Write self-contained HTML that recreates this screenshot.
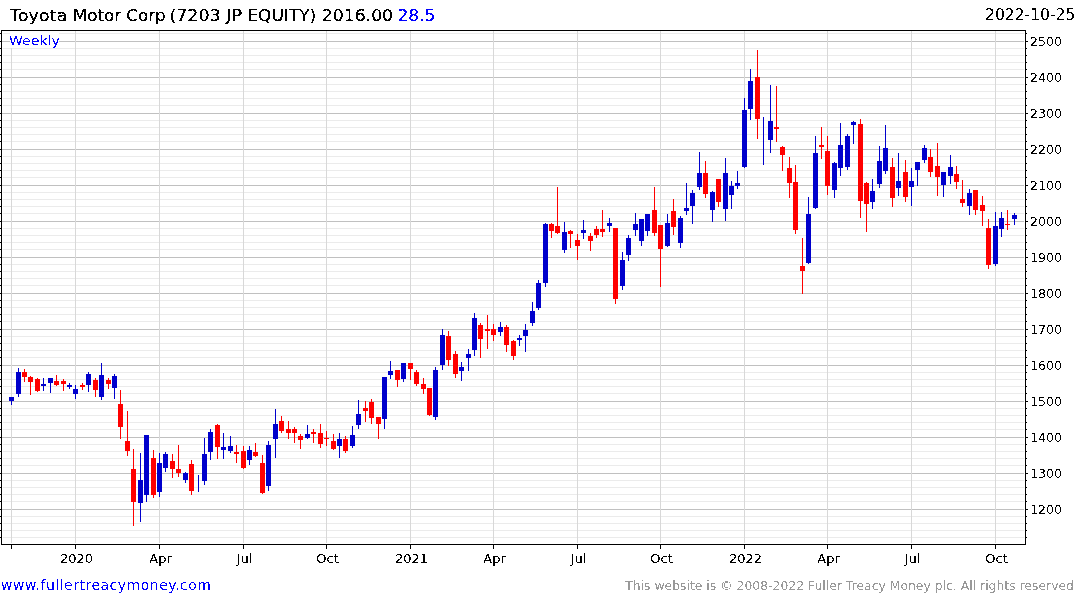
<!DOCTYPE html>
<html><head><meta charset="utf-8"><title>Toyota Motor Corp weekly chart</title>
<style>
html,body{margin:0;padding:0;background:#fff;}
body{width:1075px;height:600px;overflow:hidden;}
svg{display:block;}
svg text{font-family:'DejaVu Sans', 'Liberation Sans', sans-serif;}
</style></head><body>
<svg width="1075" height="600" viewBox="0 0 1075 600">
<rect width="1075" height="600" fill="#fff"/>
<g shape-rendering="crispEdges">
<rect x="3" y="33" width="1021" height="1" fill="#ebebeb"/>
<rect x="0" y="33" width="1" height="1" fill="#000"/>
<rect x="1026" y="33" width="1" height="1" fill="#000"/>
<rect x="2" y="41" width="1022" height="1" fill="#c0c0c0"/>
<rect x="0" y="41" width="1" height="1" fill="#000"/>
<rect x="1026" y="41" width="2" height="1" fill="#000"/>
<rect x="3" y="48" width="1021" height="1" fill="#ebebeb"/>
<rect x="0" y="48" width="1" height="1" fill="#000"/>
<rect x="1026" y="48" width="1" height="1" fill="#000"/>
<rect x="3" y="55" width="1021" height="1" fill="#ebebeb"/>
<rect x="0" y="55" width="1" height="1" fill="#000"/>
<rect x="1026" y="55" width="1" height="1" fill="#000"/>
<rect x="3" y="62" width="1021" height="1" fill="#ebebeb"/>
<rect x="0" y="62" width="1" height="1" fill="#000"/>
<rect x="1026" y="62" width="1" height="1" fill="#000"/>
<rect x="3" y="69" width="1021" height="1" fill="#ebebeb"/>
<rect x="0" y="69" width="1" height="1" fill="#000"/>
<rect x="1026" y="69" width="1" height="1" fill="#000"/>
<rect x="2" y="77" width="1022" height="1" fill="#c0c0c0"/>
<rect x="0" y="77" width="1" height="1" fill="#000"/>
<rect x="1026" y="77" width="2" height="1" fill="#000"/>
<rect x="3" y="84" width="1021" height="1" fill="#ebebeb"/>
<rect x="0" y="84" width="1" height="1" fill="#000"/>
<rect x="1026" y="84" width="1" height="1" fill="#000"/>
<rect x="3" y="91" width="1021" height="1" fill="#ebebeb"/>
<rect x="0" y="91" width="1" height="1" fill="#000"/>
<rect x="1026" y="91" width="1" height="1" fill="#000"/>
<rect x="3" y="98" width="1021" height="1" fill="#ebebeb"/>
<rect x="0" y="98" width="1" height="1" fill="#000"/>
<rect x="1026" y="98" width="1" height="1" fill="#000"/>
<rect x="3" y="105" width="1021" height="1" fill="#ebebeb"/>
<rect x="0" y="105" width="1" height="1" fill="#000"/>
<rect x="1026" y="105" width="1" height="1" fill="#000"/>
<rect x="2" y="113" width="1022" height="1" fill="#c0c0c0"/>
<rect x="0" y="113" width="1" height="1" fill="#000"/>
<rect x="1026" y="113" width="2" height="1" fill="#000"/>
<rect x="3" y="120" width="1021" height="1" fill="#ebebeb"/>
<rect x="0" y="120" width="1" height="1" fill="#000"/>
<rect x="1026" y="120" width="1" height="1" fill="#000"/>
<rect x="3" y="127" width="1021" height="1" fill="#ebebeb"/>
<rect x="0" y="127" width="1" height="1" fill="#000"/>
<rect x="1026" y="127" width="1" height="1" fill="#000"/>
<rect x="3" y="134" width="1021" height="1" fill="#ebebeb"/>
<rect x="0" y="134" width="1" height="1" fill="#000"/>
<rect x="1026" y="134" width="1" height="1" fill="#000"/>
<rect x="3" y="141" width="1021" height="1" fill="#ebebeb"/>
<rect x="0" y="141" width="1" height="1" fill="#000"/>
<rect x="1026" y="141" width="1" height="1" fill="#000"/>
<rect x="2" y="149" width="1022" height="1" fill="#c0c0c0"/>
<rect x="0" y="149" width="1" height="1" fill="#000"/>
<rect x="1026" y="149" width="2" height="1" fill="#000"/>
<rect x="3" y="156" width="1021" height="1" fill="#ebebeb"/>
<rect x="0" y="156" width="1" height="1" fill="#000"/>
<rect x="1026" y="156" width="1" height="1" fill="#000"/>
<rect x="3" y="163" width="1021" height="1" fill="#ebebeb"/>
<rect x="0" y="163" width="1" height="1" fill="#000"/>
<rect x="1026" y="163" width="1" height="1" fill="#000"/>
<rect x="3" y="170" width="1021" height="1" fill="#ebebeb"/>
<rect x="0" y="170" width="1" height="1" fill="#000"/>
<rect x="1026" y="170" width="1" height="1" fill="#000"/>
<rect x="3" y="177" width="1021" height="1" fill="#ebebeb"/>
<rect x="0" y="177" width="1" height="1" fill="#000"/>
<rect x="1026" y="177" width="1" height="1" fill="#000"/>
<rect x="2" y="185" width="1022" height="1" fill="#c0c0c0"/>
<rect x="0" y="185" width="1" height="1" fill="#000"/>
<rect x="1026" y="185" width="2" height="1" fill="#000"/>
<rect x="3" y="192" width="1021" height="1" fill="#ebebeb"/>
<rect x="0" y="192" width="1" height="1" fill="#000"/>
<rect x="1026" y="192" width="1" height="1" fill="#000"/>
<rect x="3" y="199" width="1021" height="1" fill="#ebebeb"/>
<rect x="0" y="199" width="1" height="1" fill="#000"/>
<rect x="1026" y="199" width="1" height="1" fill="#000"/>
<rect x="3" y="206" width="1021" height="1" fill="#ebebeb"/>
<rect x="0" y="206" width="1" height="1" fill="#000"/>
<rect x="1026" y="206" width="1" height="1" fill="#000"/>
<rect x="3" y="213" width="1021" height="1" fill="#ebebeb"/>
<rect x="0" y="213" width="1" height="1" fill="#000"/>
<rect x="1026" y="213" width="1" height="1" fill="#000"/>
<rect x="2" y="221" width="1022" height="1" fill="#c0c0c0"/>
<rect x="0" y="221" width="1" height="1" fill="#000"/>
<rect x="1026" y="221" width="2" height="1" fill="#000"/>
<rect x="3" y="228" width="1021" height="1" fill="#ebebeb"/>
<rect x="0" y="228" width="1" height="1" fill="#000"/>
<rect x="1026" y="228" width="1" height="1" fill="#000"/>
<rect x="3" y="235" width="1021" height="1" fill="#ebebeb"/>
<rect x="0" y="235" width="1" height="1" fill="#000"/>
<rect x="1026" y="235" width="1" height="1" fill="#000"/>
<rect x="3" y="242" width="1021" height="1" fill="#ebebeb"/>
<rect x="0" y="242" width="1" height="1" fill="#000"/>
<rect x="1026" y="242" width="1" height="1" fill="#000"/>
<rect x="3" y="249" width="1021" height="1" fill="#ebebeb"/>
<rect x="0" y="249" width="1" height="1" fill="#000"/>
<rect x="1026" y="249" width="1" height="1" fill="#000"/>
<rect x="2" y="257" width="1022" height="1" fill="#c0c0c0"/>
<rect x="0" y="257" width="1" height="1" fill="#000"/>
<rect x="1026" y="257" width="2" height="1" fill="#000"/>
<rect x="3" y="264" width="1021" height="1" fill="#ebebeb"/>
<rect x="0" y="264" width="1" height="1" fill="#000"/>
<rect x="1026" y="264" width="1" height="1" fill="#000"/>
<rect x="3" y="271" width="1021" height="1" fill="#ebebeb"/>
<rect x="0" y="271" width="1" height="1" fill="#000"/>
<rect x="1026" y="271" width="1" height="1" fill="#000"/>
<rect x="3" y="278" width="1021" height="1" fill="#ebebeb"/>
<rect x="0" y="278" width="1" height="1" fill="#000"/>
<rect x="1026" y="278" width="1" height="1" fill="#000"/>
<rect x="3" y="285" width="1021" height="1" fill="#ebebeb"/>
<rect x="0" y="285" width="1" height="1" fill="#000"/>
<rect x="1026" y="285" width="1" height="1" fill="#000"/>
<rect x="2" y="293" width="1022" height="1" fill="#c0c0c0"/>
<rect x="0" y="293" width="1" height="1" fill="#000"/>
<rect x="1026" y="293" width="2" height="1" fill="#000"/>
<rect x="3" y="300" width="1021" height="1" fill="#ebebeb"/>
<rect x="0" y="300" width="1" height="1" fill="#000"/>
<rect x="1026" y="300" width="1" height="1" fill="#000"/>
<rect x="3" y="307" width="1021" height="1" fill="#ebebeb"/>
<rect x="0" y="307" width="1" height="1" fill="#000"/>
<rect x="1026" y="307" width="1" height="1" fill="#000"/>
<rect x="3" y="314" width="1021" height="1" fill="#ebebeb"/>
<rect x="0" y="314" width="1" height="1" fill="#000"/>
<rect x="1026" y="314" width="1" height="1" fill="#000"/>
<rect x="3" y="321" width="1021" height="1" fill="#ebebeb"/>
<rect x="0" y="321" width="1" height="1" fill="#000"/>
<rect x="1026" y="321" width="1" height="1" fill="#000"/>
<rect x="2" y="329" width="1022" height="1" fill="#c0c0c0"/>
<rect x="0" y="329" width="1" height="1" fill="#000"/>
<rect x="1026" y="329" width="2" height="1" fill="#000"/>
<rect x="3" y="336" width="1021" height="1" fill="#ebebeb"/>
<rect x="0" y="336" width="1" height="1" fill="#000"/>
<rect x="1026" y="336" width="1" height="1" fill="#000"/>
<rect x="3" y="343" width="1021" height="1" fill="#ebebeb"/>
<rect x="0" y="343" width="1" height="1" fill="#000"/>
<rect x="1026" y="343" width="1" height="1" fill="#000"/>
<rect x="3" y="350" width="1021" height="1" fill="#ebebeb"/>
<rect x="0" y="350" width="1" height="1" fill="#000"/>
<rect x="1026" y="350" width="1" height="1" fill="#000"/>
<rect x="3" y="357" width="1021" height="1" fill="#ebebeb"/>
<rect x="0" y="357" width="1" height="1" fill="#000"/>
<rect x="1026" y="357" width="1" height="1" fill="#000"/>
<rect x="2" y="365" width="1022" height="1" fill="#c0c0c0"/>
<rect x="0" y="365" width="1" height="1" fill="#000"/>
<rect x="1026" y="365" width="2" height="1" fill="#000"/>
<rect x="3" y="372" width="1021" height="1" fill="#ebebeb"/>
<rect x="0" y="372" width="1" height="1" fill="#000"/>
<rect x="1026" y="372" width="1" height="1" fill="#000"/>
<rect x="3" y="379" width="1021" height="1" fill="#ebebeb"/>
<rect x="0" y="379" width="1" height="1" fill="#000"/>
<rect x="1026" y="379" width="1" height="1" fill="#000"/>
<rect x="3" y="386" width="1021" height="1" fill="#ebebeb"/>
<rect x="0" y="386" width="1" height="1" fill="#000"/>
<rect x="1026" y="386" width="1" height="1" fill="#000"/>
<rect x="3" y="393" width="1021" height="1" fill="#ebebeb"/>
<rect x="0" y="393" width="1" height="1" fill="#000"/>
<rect x="1026" y="393" width="1" height="1" fill="#000"/>
<rect x="2" y="401" width="1022" height="1" fill="#c0c0c0"/>
<rect x="0" y="401" width="1" height="1" fill="#000"/>
<rect x="1026" y="401" width="2" height="1" fill="#000"/>
<rect x="3" y="408" width="1021" height="1" fill="#ebebeb"/>
<rect x="0" y="408" width="1" height="1" fill="#000"/>
<rect x="1026" y="408" width="1" height="1" fill="#000"/>
<rect x="3" y="415" width="1021" height="1" fill="#ebebeb"/>
<rect x="0" y="415" width="1" height="1" fill="#000"/>
<rect x="1026" y="415" width="1" height="1" fill="#000"/>
<rect x="3" y="422" width="1021" height="1" fill="#ebebeb"/>
<rect x="0" y="422" width="1" height="1" fill="#000"/>
<rect x="1026" y="422" width="1" height="1" fill="#000"/>
<rect x="3" y="429" width="1021" height="1" fill="#ebebeb"/>
<rect x="0" y="429" width="1" height="1" fill="#000"/>
<rect x="1026" y="429" width="1" height="1" fill="#000"/>
<rect x="2" y="437" width="1022" height="1" fill="#c0c0c0"/>
<rect x="0" y="437" width="1" height="1" fill="#000"/>
<rect x="1026" y="437" width="2" height="1" fill="#000"/>
<rect x="3" y="444" width="1021" height="1" fill="#ebebeb"/>
<rect x="0" y="444" width="1" height="1" fill="#000"/>
<rect x="1026" y="444" width="1" height="1" fill="#000"/>
<rect x="3" y="451" width="1021" height="1" fill="#ebebeb"/>
<rect x="0" y="451" width="1" height="1" fill="#000"/>
<rect x="1026" y="451" width="1" height="1" fill="#000"/>
<rect x="3" y="458" width="1021" height="1" fill="#ebebeb"/>
<rect x="0" y="458" width="1" height="1" fill="#000"/>
<rect x="1026" y="458" width="1" height="1" fill="#000"/>
<rect x="3" y="465" width="1021" height="1" fill="#ebebeb"/>
<rect x="0" y="465" width="1" height="1" fill="#000"/>
<rect x="1026" y="465" width="1" height="1" fill="#000"/>
<rect x="2" y="473" width="1022" height="1" fill="#c0c0c0"/>
<rect x="0" y="473" width="1" height="1" fill="#000"/>
<rect x="1026" y="473" width="2" height="1" fill="#000"/>
<rect x="3" y="480" width="1021" height="1" fill="#ebebeb"/>
<rect x="0" y="480" width="1" height="1" fill="#000"/>
<rect x="1026" y="480" width="1" height="1" fill="#000"/>
<rect x="3" y="487" width="1021" height="1" fill="#ebebeb"/>
<rect x="0" y="487" width="1" height="1" fill="#000"/>
<rect x="1026" y="487" width="1" height="1" fill="#000"/>
<rect x="3" y="494" width="1021" height="1" fill="#ebebeb"/>
<rect x="0" y="494" width="1" height="1" fill="#000"/>
<rect x="1026" y="494" width="1" height="1" fill="#000"/>
<rect x="3" y="501" width="1021" height="1" fill="#ebebeb"/>
<rect x="0" y="501" width="1" height="1" fill="#000"/>
<rect x="1026" y="501" width="1" height="1" fill="#000"/>
<rect x="2" y="509" width="1022" height="1" fill="#c0c0c0"/>
<rect x="0" y="509" width="1" height="1" fill="#000"/>
<rect x="1026" y="509" width="2" height="1" fill="#000"/>
<rect x="3" y="516" width="1021" height="1" fill="#ebebeb"/>
<rect x="0" y="516" width="1" height="1" fill="#000"/>
<rect x="1026" y="516" width="1" height="1" fill="#000"/>
<rect x="3" y="523" width="1021" height="1" fill="#ebebeb"/>
<rect x="0" y="523" width="1" height="1" fill="#000"/>
<rect x="1026" y="523" width="1" height="1" fill="#000"/>
<rect x="3" y="530" width="1021" height="1" fill="#ebebeb"/>
<rect x="0" y="530" width="1" height="1" fill="#000"/>
<rect x="1026" y="530" width="1" height="1" fill="#000"/>
<rect x="3" y="537" width="1021" height="1" fill="#ebebeb"/>
<rect x="0" y="537" width="1" height="1" fill="#000"/>
<rect x="1026" y="537" width="1" height="1" fill="#000"/>
<rect x="11" y="31" width="1" height="512" fill="#d8d8d8"/>
<rect x="11" y="545" width="1" height="4" fill="#000"/>
<rect x="75" y="31" width="1" height="512" fill="#d8d8d8"/>
<rect x="75" y="545" width="1" height="4" fill="#000"/>
<rect x="159" y="31" width="1" height="512" fill="#d8d8d8"/>
<rect x="159" y="545" width="1" height="4" fill="#000"/>
<rect x="243" y="31" width="1" height="512" fill="#d8d8d8"/>
<rect x="243" y="545" width="1" height="4" fill="#000"/>
<rect x="326" y="31" width="1" height="512" fill="#d8d8d8"/>
<rect x="326" y="545" width="1" height="4" fill="#000"/>
<rect x="410" y="31" width="1" height="512" fill="#d8d8d8"/>
<rect x="410" y="545" width="1" height="4" fill="#000"/>
<rect x="493" y="31" width="1" height="512" fill="#d8d8d8"/>
<rect x="493" y="545" width="1" height="4" fill="#000"/>
<rect x="577" y="31" width="1" height="512" fill="#d8d8d8"/>
<rect x="577" y="545" width="1" height="4" fill="#000"/>
<rect x="660" y="31" width="1" height="512" fill="#d8d8d8"/>
<rect x="660" y="545" width="1" height="4" fill="#000"/>
<rect x="744" y="31" width="1" height="512" fill="#d8d8d8"/>
<rect x="744" y="545" width="1" height="4" fill="#000"/>
<rect x="827" y="31" width="1" height="512" fill="#d8d8d8"/>
<rect x="827" y="545" width="1" height="4" fill="#000"/>
<rect x="911" y="31" width="1" height="512" fill="#d8d8d8"/>
<rect x="911" y="545" width="1" height="4" fill="#000"/>
<rect x="995" y="31" width="1" height="512" fill="#d8d8d8"/>
<rect x="995" y="545" width="1" height="4" fill="#000"/>
<rect x="10" y="31" width="49" height="17" fill="#fff"/>
<rect x="11" y="397" width="1" height="8" fill="#0000cc"/>
<rect x="9" y="397" width="5" height="4" fill="#0000cc"/>
<rect x="18" y="368" width="1" height="29" fill="#0000cc"/>
<rect x="16" y="372" width="5" height="22" fill="#0000cc"/>
<rect x="24" y="369" width="1" height="13" fill="#ff0000"/>
<rect x="22" y="372" width="5" height="5" fill="#ff0000"/>
<rect x="30" y="376" width="1" height="19" fill="#ff0000"/>
<rect x="28" y="377" width="5" height="5" fill="#ff0000"/>
<rect x="37" y="378" width="1" height="14" fill="#ff0000"/>
<rect x="35" y="379" width="5" height="12" fill="#ff0000"/>
<rect x="43" y="378" width="1" height="13" fill="#0000cc"/>
<rect x="41" y="384" width="5" height="2" fill="#0000cc"/>
<rect x="50" y="378" width="1" height="15" fill="#0000cc"/>
<rect x="48" y="378" width="5" height="5" fill="#0000cc"/>
<rect x="56" y="375" width="1" height="11" fill="#ff0000"/>
<rect x="54" y="381" width="5" height="4" fill="#ff0000"/>
<rect x="63" y="379" width="1" height="12" fill="#ff0000"/>
<rect x="61" y="381" width="5" height="3" fill="#ff0000"/>
<rect x="69" y="383" width="1" height="6" fill="#0000cc"/>
<rect x="67" y="385" width="5" height="2" fill="#0000cc"/>
<rect x="75" y="385" width="1" height="14" fill="#0000cc"/>
<rect x="73" y="389" width="5" height="5" fill="#0000cc"/>
<rect x="82" y="383" width="1" height="7" fill="#ff0000"/>
<rect x="80" y="385" width="5" height="2" fill="#ff0000"/>
<rect x="88" y="372" width="1" height="20" fill="#0000cc"/>
<rect x="86" y="374" width="5" height="11" fill="#0000cc"/>
<rect x="95" y="378" width="1" height="19" fill="#ff0000"/>
<rect x="93" y="380" width="5" height="10" fill="#ff0000"/>
<rect x="101" y="363" width="1" height="37" fill="#0000cc"/>
<rect x="99" y="375" width="5" height="22" fill="#0000cc"/>
<rect x="108" y="378" width="1" height="11" fill="#ff0000"/>
<rect x="106" y="380" width="5" height="4" fill="#ff0000"/>
<rect x="114" y="374" width="1" height="25" fill="#0000cc"/>
<rect x="112" y="376" width="5" height="12" fill="#0000cc"/>
<rect x="120" y="390" width="1" height="49" fill="#ff0000"/>
<rect x="118" y="404" width="5" height="23" fill="#ff0000"/>
<rect x="127" y="411" width="1" height="45" fill="#ff0000"/>
<rect x="125" y="441" width="5" height="10" fill="#ff0000"/>
<rect x="133" y="449" width="1" height="77" fill="#ff0000"/>
<rect x="131" y="469" width="5" height="33" fill="#ff0000"/>
<rect x="140" y="453" width="1" height="69" fill="#0000cc"/>
<rect x="138" y="480" width="5" height="23" fill="#0000cc"/>
<rect x="146" y="435" width="1" height="67" fill="#0000cc"/>
<rect x="144" y="435" width="5" height="60" fill="#0000cc"/>
<rect x="153" y="450" width="1" height="48" fill="#ff0000"/>
<rect x="151" y="458" width="5" height="37" fill="#ff0000"/>
<rect x="159" y="453" width="1" height="44" fill="#0000cc"/>
<rect x="157" y="463" width="5" height="29" fill="#0000cc"/>
<rect x="165" y="452" width="1" height="20" fill="#0000cc"/>
<rect x="163" y="454" width="5" height="14" fill="#0000cc"/>
<rect x="172" y="454" width="1" height="24" fill="#ff0000"/>
<rect x="170" y="461" width="5" height="8" fill="#ff0000"/>
<rect x="178" y="445" width="1" height="32" fill="#ff0000"/>
<rect x="176" y="469" width="5" height="4" fill="#ff0000"/>
<rect x="185" y="472" width="1" height="11" fill="#0000cc"/>
<rect x="183" y="473" width="5" height="7" fill="#0000cc"/>
<rect x="191" y="460" width="1" height="35" fill="#ff0000"/>
<rect x="189" y="464" width="5" height="27" fill="#ff0000"/>
<rect x="198" y="475" width="1" height="17" fill="#0000cc"/>
<rect x="204" y="438" width="1" height="47" fill="#0000cc"/>
<rect x="202" y="454" width="5" height="27" fill="#0000cc"/>
<rect x="210" y="429" width="1" height="31" fill="#0000cc"/>
<rect x="208" y="432" width="5" height="20" fill="#0000cc"/>
<rect x="217" y="424" width="1" height="35" fill="#ff0000"/>
<rect x="215" y="425" width="5" height="22" fill="#ff0000"/>
<rect x="223" y="433" width="1" height="26" fill="#0000cc"/>
<rect x="221" y="447" width="5" height="3" fill="#0000cc"/>
<rect x="230" y="436" width="1" height="17" fill="#0000cc"/>
<rect x="228" y="446" width="5" height="5" fill="#0000cc"/>
<rect x="236" y="445" width="1" height="18" fill="#ff0000"/>
<rect x="234" y="452" width="5" height="2" fill="#ff0000"/>
<rect x="243" y="446" width="1" height="23" fill="#ff0000"/>
<rect x="241" y="451" width="5" height="17" fill="#ff0000"/>
<rect x="249" y="446" width="1" height="19" fill="#0000cc"/>
<rect x="247" y="450" width="5" height="10" fill="#0000cc"/>
<rect x="255" y="443" width="1" height="14" fill="#ff0000"/>
<rect x="253" y="452" width="5" height="4" fill="#ff0000"/>
<rect x="262" y="455" width="1" height="39" fill="#ff0000"/>
<rect x="260" y="463" width="5" height="30" fill="#ff0000"/>
<rect x="268" y="441" width="1" height="50" fill="#0000cc"/>
<rect x="266" y="445" width="5" height="41" fill="#0000cc"/>
<rect x="275" y="409" width="1" height="49" fill="#0000cc"/>
<rect x="273" y="424" width="5" height="15" fill="#0000cc"/>
<rect x="281" y="416" width="1" height="17" fill="#ff0000"/>
<rect x="279" y="421" width="5" height="10" fill="#ff0000"/>
<rect x="288" y="421" width="1" height="18" fill="#ff0000"/>
<rect x="286" y="429" width="5" height="4" fill="#ff0000"/>
<rect x="294" y="427" width="1" height="16" fill="#ff0000"/>
<rect x="292" y="429" width="5" height="4" fill="#ff0000"/>
<rect x="300" y="434" width="1" height="15" fill="#ff0000"/>
<rect x="298" y="436" width="5" height="4" fill="#ff0000"/>
<rect x="307" y="425" width="1" height="14" fill="#0000cc"/>
<rect x="305" y="434" width="5" height="4" fill="#0000cc"/>
<rect x="313" y="429" width="1" height="14" fill="#ff0000"/>
<rect x="311" y="432" width="5" height="2" fill="#ff0000"/>
<rect x="320" y="424" width="1" height="24" fill="#ff0000"/>
<rect x="318" y="433" width="5" height="11" fill="#ff0000"/>
<rect x="326" y="431" width="1" height="15" fill="#ff0000"/>
<rect x="324" y="438" width="5" height="1" fill="#ff0000"/>
<rect x="333" y="434" width="1" height="16" fill="#ff0000"/>
<rect x="331" y="441" width="5" height="8" fill="#ff0000"/>
<rect x="339" y="433" width="1" height="25" fill="#0000cc"/>
<rect x="337" y="439" width="5" height="7" fill="#0000cc"/>
<rect x="345" y="436" width="1" height="17" fill="#ff0000"/>
<rect x="343" y="439" width="5" height="12" fill="#ff0000"/>
<rect x="352" y="426" width="1" height="22" fill="#0000cc"/>
<rect x="350" y="435" width="5" height="11" fill="#0000cc"/>
<rect x="358" y="400" width="1" height="29" fill="#0000cc"/>
<rect x="356" y="414" width="5" height="11" fill="#0000cc"/>
<rect x="365" y="401" width="1" height="21" fill="#ff0000"/>
<rect x="363" y="408" width="5" height="3" fill="#ff0000"/>
<rect x="371" y="399" width="1" height="25" fill="#ff0000"/>
<rect x="369" y="402" width="5" height="16" fill="#ff0000"/>
<rect x="378" y="417" width="1" height="22" fill="#ff0000"/>
<rect x="376" y="417" width="5" height="7" fill="#ff0000"/>
<rect x="384" y="377" width="1" height="52" fill="#0000cc"/>
<rect x="382" y="377" width="5" height="42" fill="#0000cc"/>
<rect x="390" y="361" width="1" height="18" fill="#0000cc"/>
<rect x="388" y="371" width="5" height="4" fill="#0000cc"/>
<rect x="397" y="370" width="1" height="17" fill="#ff0000"/>
<rect x="395" y="370" width="5" height="10" fill="#ff0000"/>
<rect x="403" y="363" width="1" height="19" fill="#0000cc"/>
<rect x="401" y="363" width="5" height="16" fill="#0000cc"/>
<rect x="410" y="363" width="1" height="17" fill="#ff0000"/>
<rect x="408" y="363" width="5" height="6" fill="#ff0000"/>
<rect x="416" y="370" width="1" height="16" fill="#ff0000"/>
<rect x="414" y="372" width="5" height="12" fill="#ff0000"/>
<rect x="423" y="378" width="1" height="16" fill="#ff0000"/>
<rect x="421" y="384" width="5" height="5" fill="#ff0000"/>
<rect x="429" y="388" width="1" height="28" fill="#ff0000"/>
<rect x="427" y="388" width="5" height="27" fill="#ff0000"/>
<rect x="435" y="367" width="1" height="53" fill="#0000cc"/>
<rect x="433" y="370" width="5" height="47" fill="#0000cc"/>
<rect x="442" y="329" width="1" height="41" fill="#0000cc"/>
<rect x="440" y="335" width="5" height="30" fill="#0000cc"/>
<rect x="448" y="331" width="1" height="35" fill="#ff0000"/>
<rect x="446" y="336" width="5" height="24" fill="#ff0000"/>
<rect x="455" y="351" width="1" height="27" fill="#ff0000"/>
<rect x="453" y="354" width="5" height="20" fill="#ff0000"/>
<rect x="461" y="362" width="1" height="19" fill="#0000cc"/>
<rect x="459" y="367" width="5" height="4" fill="#0000cc"/>
<rect x="468" y="349" width="1" height="22" fill="#0000cc"/>
<rect x="466" y="354" width="5" height="4" fill="#0000cc"/>
<rect x="474" y="313" width="1" height="43" fill="#0000cc"/>
<rect x="472" y="318" width="5" height="32" fill="#0000cc"/>
<rect x="480" y="323" width="1" height="35" fill="#ff0000"/>
<rect x="478" y="325" width="5" height="14" fill="#ff0000"/>
<rect x="487" y="315" width="1" height="34" fill="#ff0000"/>
<rect x="485" y="329" width="5" height="2" fill="#ff0000"/>
<rect x="493" y="324" width="1" height="17" fill="#ff0000"/>
<rect x="491" y="329" width="5" height="6" fill="#ff0000"/>
<rect x="500" y="322" width="1" height="14" fill="#0000cc"/>
<rect x="498" y="327" width="5" height="5" fill="#0000cc"/>
<rect x="506" y="325" width="1" height="27" fill="#ff0000"/>
<rect x="504" y="327" width="5" height="18" fill="#ff0000"/>
<rect x="513" y="340" width="1" height="20" fill="#ff0000"/>
<rect x="511" y="341" width="5" height="15" fill="#ff0000"/>
<rect x="519" y="335" width="1" height="11" fill="#0000cc"/>
<rect x="517" y="338" width="5" height="2" fill="#0000cc"/>
<rect x="525" y="324" width="1" height="28" fill="#0000cc"/>
<rect x="523" y="330" width="5" height="6" fill="#0000cc"/>
<rect x="532" y="302" width="1" height="24" fill="#0000cc"/>
<rect x="530" y="311" width="5" height="12" fill="#0000cc"/>
<rect x="538" y="280" width="1" height="30" fill="#0000cc"/>
<rect x="536" y="283" width="5" height="25" fill="#0000cc"/>
<rect x="545" y="223" width="1" height="64" fill="#0000cc"/>
<rect x="543" y="224" width="5" height="59" fill="#0000cc"/>
<rect x="551" y="223" width="1" height="15" fill="#ff0000"/>
<rect x="549" y="224" width="5" height="7" fill="#ff0000"/>
<rect x="557" y="187" width="1" height="47" fill="#ff0000"/>
<rect x="555" y="226" width="5" height="7" fill="#ff0000"/>
<rect x="564" y="222" width="1" height="31" fill="#0000cc"/>
<rect x="562" y="232" width="5" height="18" fill="#0000cc"/>
<rect x="570" y="230" width="1" height="18" fill="#ff0000"/>
<rect x="568" y="231" width="5" height="3" fill="#ff0000"/>
<rect x="577" y="234" width="1" height="26" fill="#ff0000"/>
<rect x="575" y="240" width="5" height="6" fill="#ff0000"/>
<rect x="583" y="220" width="1" height="19" fill="#0000cc"/>
<rect x="581" y="230" width="5" height="3" fill="#0000cc"/>
<rect x="590" y="233" width="1" height="18" fill="#ff0000"/>
<rect x="588" y="236" width="5" height="5" fill="#ff0000"/>
<rect x="596" y="226" width="1" height="12" fill="#ff0000"/>
<rect x="594" y="229" width="5" height="6" fill="#ff0000"/>
<rect x="602" y="210" width="1" height="27" fill="#ff0000"/>
<rect x="600" y="229" width="5" height="3" fill="#ff0000"/>
<rect x="609" y="218" width="1" height="14" fill="#0000cc"/>
<rect x="607" y="223" width="5" height="3" fill="#0000cc"/>
<rect x="615" y="228" width="1" height="76" fill="#ff0000"/>
<rect x="613" y="228" width="5" height="71" fill="#ff0000"/>
<rect x="622" y="252" width="1" height="38" fill="#0000cc"/>
<rect x="620" y="260" width="5" height="26" fill="#0000cc"/>
<rect x="628" y="235" width="1" height="26" fill="#0000cc"/>
<rect x="626" y="238" width="5" height="17" fill="#0000cc"/>
<rect x="635" y="213" width="1" height="23" fill="#0000cc"/>
<rect x="633" y="224" width="5" height="6" fill="#0000cc"/>
<rect x="641" y="219" width="1" height="27" fill="#0000cc"/>
<rect x="639" y="219" width="5" height="22" fill="#0000cc"/>
<rect x="647" y="214" width="1" height="22" fill="#0000cc"/>
<rect x="645" y="214" width="5" height="17" fill="#0000cc"/>
<rect x="654" y="187" width="1" height="49" fill="#ff0000"/>
<rect x="652" y="210" width="5" height="23" fill="#ff0000"/>
<rect x="660" y="225" width="1" height="62" fill="#ff0000"/>
<rect x="658" y="225" width="5" height="24" fill="#ff0000"/>
<rect x="667" y="214" width="1" height="33" fill="#0000cc"/>
<rect x="665" y="223" width="5" height="23" fill="#0000cc"/>
<rect x="673" y="199" width="1" height="36" fill="#ff0000"/>
<rect x="671" y="211" width="5" height="16" fill="#ff0000"/>
<rect x="680" y="216" width="1" height="32" fill="#0000cc"/>
<rect x="678" y="218" width="5" height="25" fill="#0000cc"/>
<rect x="686" y="183" width="1" height="32" fill="#0000cc"/>
<rect x="684" y="208" width="5" height="3" fill="#0000cc"/>
<rect x="692" y="190" width="1" height="34" fill="#0000cc"/>
<rect x="690" y="193" width="5" height="13" fill="#0000cc"/>
<rect x="699" y="152" width="1" height="38" fill="#0000cc"/>
<rect x="697" y="173" width="5" height="14" fill="#0000cc"/>
<rect x="705" y="161" width="1" height="37" fill="#ff0000"/>
<rect x="703" y="173" width="5" height="21" fill="#ff0000"/>
<rect x="712" y="191" width="1" height="31" fill="#0000cc"/>
<rect x="710" y="192" width="5" height="18" fill="#0000cc"/>
<rect x="718" y="179" width="1" height="28" fill="#ff0000"/>
<rect x="716" y="179" width="5" height="23" fill="#ff0000"/>
<rect x="725" y="158" width="1" height="63" fill="#0000cc"/>
<rect x="723" y="173" width="5" height="36" fill="#0000cc"/>
<rect x="731" y="181" width="1" height="28" fill="#0000cc"/>
<rect x="729" y="186" width="5" height="9" fill="#0000cc"/>
<rect x="737" y="171" width="1" height="18" fill="#0000cc"/>
<rect x="735" y="183" width="5" height="3" fill="#0000cc"/>
<rect x="744" y="98" width="1" height="70" fill="#0000cc"/>
<rect x="742" y="110" width="5" height="57" fill="#0000cc"/>
<rect x="750" y="69" width="1" height="51" fill="#0000cc"/>
<rect x="748" y="81" width="5" height="28" fill="#0000cc"/>
<rect x="757" y="50" width="1" height="89" fill="#ff0000"/>
<rect x="755" y="77" width="5" height="42" fill="#ff0000"/>
<rect x="763" y="117" width="1" height="48" fill="#0000cc"/>
<rect x="770" y="85" width="1" height="68" fill="#0000cc"/>
<rect x="768" y="121" width="5" height="19" fill="#0000cc"/>
<rect x="776" y="86" width="1" height="56" fill="#ff0000"/>
<rect x="774" y="127" width="5" height="2" fill="#ff0000"/>
<rect x="782" y="146" width="1" height="25" fill="#ff0000"/>
<rect x="780" y="147" width="5" height="8" fill="#ff0000"/>
<rect x="789" y="157" width="1" height="41" fill="#ff0000"/>
<rect x="787" y="168" width="5" height="15" fill="#ff0000"/>
<rect x="795" y="165" width="1" height="69" fill="#ff0000"/>
<rect x="793" y="182" width="5" height="48" fill="#ff0000"/>
<rect x="802" y="238" width="1" height="56" fill="#ff0000"/>
<rect x="800" y="266" width="5" height="5" fill="#ff0000"/>
<rect x="808" y="197" width="1" height="67" fill="#0000cc"/>
<rect x="806" y="214" width="5" height="49" fill="#0000cc"/>
<rect x="815" y="136" width="1" height="73" fill="#0000cc"/>
<rect x="813" y="153" width="5" height="55" fill="#0000cc"/>
<rect x="821" y="127" width="1" height="32" fill="#ff0000"/>
<rect x="819" y="145" width="5" height="2" fill="#ff0000"/>
<rect x="827" y="136" width="1" height="59" fill="#ff0000"/>
<rect x="825" y="151" width="5" height="35" fill="#ff0000"/>
<rect x="834" y="162" width="1" height="36" fill="#0000cc"/>
<rect x="832" y="163" width="5" height="27" fill="#0000cc"/>
<rect x="840" y="123" width="1" height="53" fill="#0000cc"/>
<rect x="838" y="145" width="5" height="23" fill="#0000cc"/>
<rect x="847" y="134" width="1" height="36" fill="#0000cc"/>
<rect x="845" y="136" width="5" height="31" fill="#0000cc"/>
<rect x="853" y="121" width="1" height="23" fill="#0000cc"/>
<rect x="851" y="122" width="5" height="3" fill="#0000cc"/>
<rect x="860" y="119" width="1" height="99" fill="#ff0000"/>
<rect x="858" y="124" width="5" height="77" fill="#ff0000"/>
<rect x="866" y="182" width="1" height="50" fill="#ff0000"/>
<rect x="864" y="183" width="5" height="21" fill="#ff0000"/>
<rect x="872" y="179" width="1" height="30" fill="#0000cc"/>
<rect x="870" y="191" width="5" height="11" fill="#0000cc"/>
<rect x="879" y="146" width="1" height="42" fill="#0000cc"/>
<rect x="877" y="161" width="5" height="23" fill="#0000cc"/>
<rect x="885" y="125" width="1" height="49" fill="#0000cc"/>
<rect x="883" y="148" width="5" height="23" fill="#0000cc"/>
<rect x="892" y="158" width="1" height="49" fill="#ff0000"/>
<rect x="890" y="167" width="5" height="31" fill="#ff0000"/>
<rect x="898" y="153" width="1" height="43" fill="#0000cc"/>
<rect x="896" y="181" width="5" height="7" fill="#0000cc"/>
<rect x="905" y="160" width="1" height="42" fill="#ff0000"/>
<rect x="903" y="172" width="5" height="25" fill="#ff0000"/>
<rect x="911" y="168" width="1" height="38" fill="#0000cc"/>
<rect x="909" y="181" width="5" height="6" fill="#0000cc"/>
<rect x="917" y="162" width="1" height="24" fill="#0000cc"/>
<rect x="915" y="162" width="5" height="8" fill="#0000cc"/>
<rect x="924" y="145" width="1" height="18" fill="#0000cc"/>
<rect x="922" y="148" width="5" height="12" fill="#0000cc"/>
<rect x="930" y="149" width="1" height="28" fill="#ff0000"/>
<rect x="928" y="157" width="5" height="15" fill="#ff0000"/>
<rect x="937" y="143" width="1" height="53" fill="#ff0000"/>
<rect x="935" y="166" width="5" height="11" fill="#ff0000"/>
<rect x="943" y="172" width="1" height="25" fill="#0000cc"/>
<rect x="941" y="172" width="5" height="13" fill="#0000cc"/>
<rect x="950" y="155" width="1" height="29" fill="#0000cc"/>
<rect x="948" y="167" width="5" height="9" fill="#0000cc"/>
<rect x="956" y="166" width="1" height="23" fill="#ff0000"/>
<rect x="954" y="174" width="5" height="8" fill="#ff0000"/>
<rect x="962" y="180" width="1" height="27" fill="#ff0000"/>
<rect x="960" y="199" width="5" height="4" fill="#ff0000"/>
<rect x="969" y="189" width="1" height="26" fill="#0000cc"/>
<rect x="967" y="193" width="5" height="13" fill="#0000cc"/>
<rect x="975" y="190" width="1" height="25" fill="#ff0000"/>
<rect x="973" y="190" width="5" height="20" fill="#ff0000"/>
<rect x="982" y="196" width="1" height="30" fill="#ff0000"/>
<rect x="980" y="205" width="5" height="6" fill="#ff0000"/>
<rect x="988" y="219" width="1" height="50" fill="#ff0000"/>
<rect x="986" y="228" width="5" height="37" fill="#ff0000"/>
<rect x="995" y="212" width="1" height="54" fill="#0000cc"/>
<rect x="993" y="226" width="5" height="38" fill="#0000cc"/>
<rect x="1001" y="212" width="1" height="25" fill="#0000cc"/>
<rect x="999" y="218" width="5" height="11" fill="#0000cc"/>
<rect x="1007" y="210" width="1" height="20" fill="#ff0000"/>
<rect x="1005" y="224" width="5" height="1" fill="#ff0000"/>
<rect x="1014" y="213" width="1" height="12" fill="#0000cc"/>
<rect x="1012" y="215" width="5" height="4" fill="#0000cc"/>
<rect x="1" y="30" width="1025" height="1" fill="#000"/>
<rect x="1" y="544" width="1025" height="1" fill="#000"/>
<rect x="1" y="30" width="1" height="515" fill="#000"/>
<rect x="1025" y="30" width="1" height="515" fill="#000"/>
</g>
<defs><filter id="al" x="0" y="0" width="100%" height="100%"><feComponentTransfer><feFuncA type="discrete" tableValues="0 1"/></feComponentTransfer></filter><filter id="al2" x="0" y="0" width="100%" height="100%"><feComponentTransfer><feFuncA type="discrete" tableValues="0 1"/></feComponentTransfer></filter></defs>
<g filter="url(#al)">
<text x="10.0" y="21" font-size="16" fill="#000" textLength="57.2" lengthAdjust="spacingAndGlyphs" stroke="#000" stroke-width="0.2">Toyota</text>
<text x="72.8" y="21" font-size="16" fill="#000" textLength="48.3" lengthAdjust="spacingAndGlyphs" stroke="#000" stroke-width="0.2">Motor</text>
<text x="126.2" y="21" font-size="16" fill="#000" textLength="39.5" lengthAdjust="spacingAndGlyphs" stroke="#000" stroke-width="0.2">Corp</text>
<text x="169.4" y="21" font-size="16" fill="#000" textLength="51.3" lengthAdjust="spacingAndGlyphs" stroke="#000" stroke-width="0.2">(7203</text>
<text x="226.0" y="21" font-size="16" fill="#000" textLength="16.3" lengthAdjust="spacingAndGlyphs" stroke="#000" stroke-width="0.2">JP</text>
<text x="247.3" y="21" font-size="16" fill="#000" textLength="68.9" lengthAdjust="spacingAndGlyphs" stroke="#000" stroke-width="0.2">EQUITY)</text>
<text x="321.8" y="21" font-size="16" fill="#000" textLength="71.3" lengthAdjust="spacingAndGlyphs" stroke="#000" stroke-width="0.2">2016.00</text>
<text x="397.4" y="21" font-size="16" fill="#0000ff" textLength="38.0" lengthAdjust="spacingAndGlyphs" stroke="#0000ff" stroke-width="0.2">28.5</text>
</g>
<g filter="url(#al2)">
<text x="985.0" y="20" font-size="15" fill="#000" textLength="90.3" lengthAdjust="spacingAndGlyphs">2022-10-25</text>
<text x="9.0" y="44.5" font-size="13" fill="#0000ff" textLength="50.9" lengthAdjust="spacingAndGlyphs">Weekly</text>
<text x="1030" y="46" font-size="12.5" fill="#000" text-anchor="start" textLength="32" lengthAdjust="spacingAndGlyphs">2500</text>
<text x="1030" y="82" font-size="12.5" fill="#000" text-anchor="start" textLength="32" lengthAdjust="spacingAndGlyphs">2400</text>
<text x="1030" y="118" font-size="12.5" fill="#000" text-anchor="start" textLength="32" lengthAdjust="spacingAndGlyphs">2300</text>
<text x="1030" y="154" font-size="12.5" fill="#000" text-anchor="start" textLength="32" lengthAdjust="spacingAndGlyphs">2200</text>
<text x="1030" y="190" font-size="12.5" fill="#000" text-anchor="start" textLength="32" lengthAdjust="spacingAndGlyphs">2100</text>
<text x="1030" y="226" font-size="12.5" fill="#000" text-anchor="start" textLength="32" lengthAdjust="spacingAndGlyphs">2000</text>
<text x="1030" y="262" font-size="12.5" fill="#000" text-anchor="start" textLength="32" lengthAdjust="spacingAndGlyphs">1900</text>
<text x="1030" y="298" font-size="12.5" fill="#000" text-anchor="start" textLength="32" lengthAdjust="spacingAndGlyphs">1800</text>
<text x="1030" y="334" font-size="12.5" fill="#000" text-anchor="start" textLength="32" lengthAdjust="spacingAndGlyphs">1700</text>
<text x="1030" y="370" font-size="12.5" fill="#000" text-anchor="start" textLength="32" lengthAdjust="spacingAndGlyphs">1600</text>
<text x="1030" y="406" font-size="12.5" fill="#000" text-anchor="start" textLength="32" lengthAdjust="spacingAndGlyphs">1500</text>
<text x="1030" y="442" font-size="12.5" fill="#000" text-anchor="start" textLength="32" lengthAdjust="spacingAndGlyphs">1400</text>
<text x="1030" y="478" font-size="12.5" fill="#000" text-anchor="start" textLength="32" lengthAdjust="spacingAndGlyphs">1300</text>
<text x="1030" y="514" font-size="12.5" fill="#000" text-anchor="start" textLength="32" lengthAdjust="spacingAndGlyphs">1200</text>
<text x="76.5" y="563" font-size="13" fill="#000" text-anchor="middle" >2020</text>
<text x="160.5" y="563" font-size="13" fill="#000" text-anchor="middle" >Apr</text>
<text x="244.5" y="563" font-size="13" fill="#000" text-anchor="middle" >Jul</text>
<text x="327.5" y="563" font-size="13" fill="#000" text-anchor="middle" >Oct</text>
<text x="411.5" y="563" font-size="13" fill="#000" text-anchor="middle" >2021</text>
<text x="494.5" y="563" font-size="13" fill="#000" text-anchor="middle" >Apr</text>
<text x="578.5" y="563" font-size="13" fill="#000" text-anchor="middle" >Jul</text>
<text x="661.5" y="563" font-size="13" fill="#000" text-anchor="middle" >Oct</text>
<text x="745.5" y="563" font-size="13" fill="#000" text-anchor="middle" >2022</text>
<text x="828.5" y="563" font-size="13" fill="#000" text-anchor="middle" >Apr</text>
<text x="912.5" y="563" font-size="13" fill="#000" text-anchor="middle" >Jul</text>
<text x="996.5" y="563" font-size="13" fill="#000" text-anchor="middle" >Oct</text>
<text x="1" y="590" font-size="14" fill="#0000ff" text-anchor="start" letter-spacing="0.5">www.fullertreacymoney.com</text>
<text x="1074" y="590" font-size="12.4" fill="#999" text-anchor="end" >This website is © 2008-2022 Fuller Treacy Money plc. All rights reserved</text>
</g>
</svg>
</body></html>
